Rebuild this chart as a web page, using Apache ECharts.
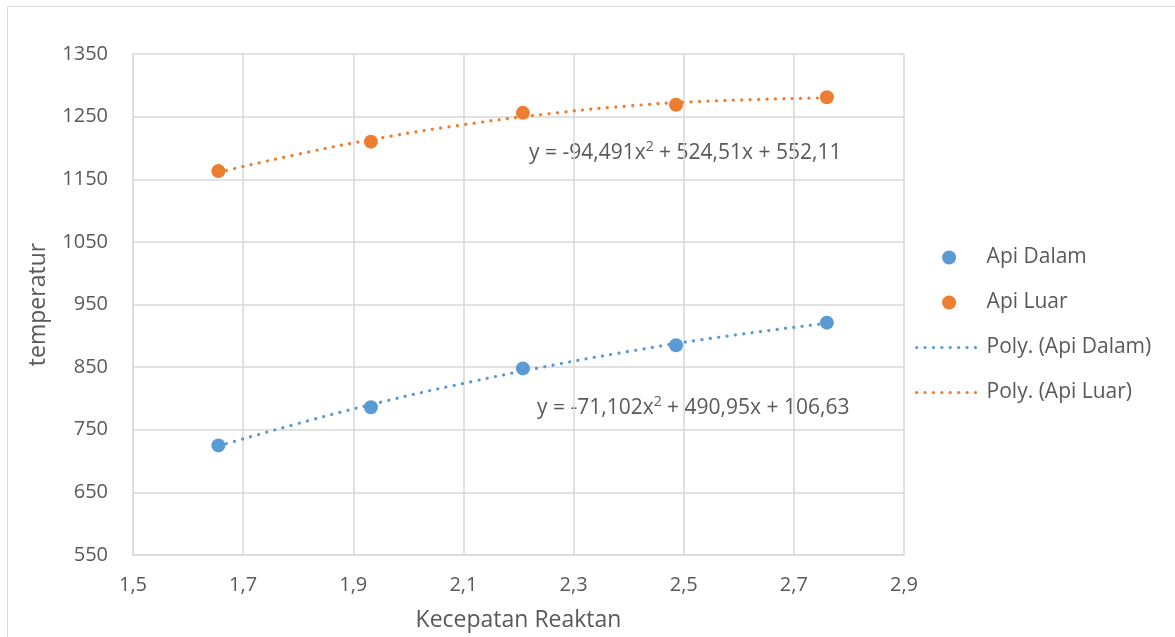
<!DOCTYPE html>
<html><head><meta charset="utf-8">
<script src="https://cdn.jsdelivr.net/npm/echarts@6/dist/echarts.min.js"></script>
<style>html,body{margin:0;padding:0;background:#fff}#c{width:1175px;height:637px}</style>
</head><body><div id="c"></div>
<script>
const xDalam = [1.655, 1.932, 2.208, 2.486, 2.760];
const yDalam = [725, 786, 848, 885, 921];
const xLuar = [1.655, 1.932, 2.208, 2.486, 2.760];
const yLuar = [1163, 1210, 1256, 1269, 1281];
// trendline points
const xTrend = [1.655, 1.8, 1.95, 2.1, 2.25, 2.4, 2.55, 2.76];
const yTrendDalam = [724, 760, 794, 824, 851, 875, 896, 920];
const yTrendLuar = [1161, 1190, 1216, 1237, 1254, 1267, 1275, 1280];
const eqLuar = '-94,491';
const eqLuar2 = ' + 524,51x + 552,11';
const eqDalam = '-71,102';
const eqDalam2 = ' + 490,95x + 106,63';
const fmt = v => String(v).replace('.', ',');
const zip = (a, b) => a.map((v, i) => [v, b[i]]);
const FONT = 'Open Sans';
const TXT = '#595959';
const FS = 20;
const chart = echarts.init(document.getElementById('c'));
const dots = {width: 3.2, type: [0.1, 8.3], cap: 'round'};
const rich = {a: {fontSize: 21, fill: TXT, fontFamily: FONT, verticalAlign: 'bottom'},
              s: {fontSize: 14, fill: TXT, fontFamily: FONT, verticalAlign: 'top', padding: [0, 0, 10, 0]}};
chart.setOption({
  animation: false,
  textStyle: {fontFamily: FONT},
  grid: {left: 133, right: 271, top: 54, bottom: 81},
  xAxis: {
    type: 'value', min: 1.5, max: 2.9, interval: 0.2,
    name: 'Kecepatan Reaktan', nameLocation: 'middle', nameGap: 54,
    nameTextStyle: {color: TXT, fontSize: 23, fontFamily: FONT},
    axisLine: {show: true, lineStyle: {color: '#d9d9d9', width: 1.5}},
    axisTick: {show: false},
    axisLabel: {color: TXT, fontSize: FS, margin: 20, formatter: v => fmt(Math.round(v * 10) / 10)},
    splitLine: {show: true, lineStyle: {color: '#d9d9d9', width: 1.5}}
  },
  yAxis: {
    type: 'value', min: 550, max: 1350, interval: 100,
    name: 'temperatur', nameLocation: 'middle', nameGap: 83, nameRotate: 90,
    nameTextStyle: {color: TXT, fontSize: 23, fontFamily: FONT},
    axisLine: {show: true, lineStyle: {color: '#d9d9d9', width: 1.5}},
    axisTick: {show: false},
    axisLabel: {color: TXT, fontSize: FS, margin: 25, formatter: v => String(v)},
    splitLine: {show: true, lineStyle: {color: '#d9d9d9', width: 1.5}}
  },
  legend: {
    orient: 'vertical', left: 910, top: 242, itemWidth: 65, itemHeight: 14, itemGap: 24,
    textStyle: {color: TXT, fontSize: 21, fontFamily: FONT, padding: [0, 0, 0, 0]},
    data: [
      {name: 'Api Dalam', icon: 'circle'},
      {name: 'Api Luar', icon: 'circle'},
      {name: 'Poly. (Api Dalam)', itemStyle: {opacity: 0}, lineStyle: {width: 3.2, type: [0.1, 8.3], cap: 'round', color: '#5B9BD5'}},
      {name: 'Poly. (Api Luar)', itemStyle: {opacity: 0}, lineStyle: {width: 3.2, type: [0.1, 8.3], cap: 'round', color: '#ED7D31'}}
    ]
  },
  series: [
    {name: 'Poly. (Api Dalam)', type: 'line', data: zip(xTrend, yTrendDalam), smooth: true, symbol: 'none',
     lineStyle: Object.assign({color: '#5B9BD5'}, dots), itemStyle: {color: '#5B9BD5'}},
    {name: 'Poly. (Api Luar)', type: 'line', data: zip(xTrend, yTrendLuar), smooth: true, symbol: 'none',
     lineStyle: Object.assign({color: '#ED7D31'}, dots), itemStyle: {color: '#ED7D31'}},
    {name: 'Api Dalam', type: 'scatter', data: zip(xDalam, yDalam), symbolSize: 14, itemStyle: {color: '#5B9BD5', opacity: 1}, z: 5},
    {name: 'Api Luar', type: 'scatter', data: zip(xLuar, yLuar), symbolSize: 14, itemStyle: {color: '#ED7D31', opacity: 1}, z: 5}
  ],
  graphic: [
    {type: 'rect', shape: {x: 7.5, y: 6.5, width: 1200, height: 700}, style: {fill: 'none', stroke: '#d9d9d9', lineWidth: 1}, silent: true},
    {type: 'text', left: 529, top: 140, style: {text: '{a|y = ' + eqLuar + 'x}{s|2}{a|' + eqLuar2 + '}', rich: rich}},
    {type: 'text', left: 537, top: 395, style: {text: '{a|y = ' + eqDalam + 'x}{s|2}{a|' + eqDalam2 + '}', rich: rich}}
  ]
});
</script></body></html>
